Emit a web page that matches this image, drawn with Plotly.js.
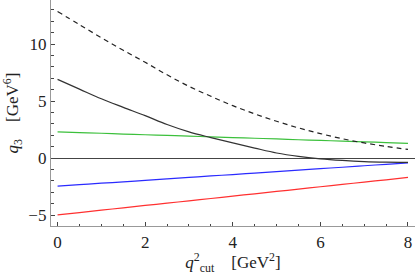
<!DOCTYPE html>
<html><head><meta charset="utf-8">
<script src="https://cdn.plot.ly/plotly-3.0.1.min.js"></script>
<style>body{margin:0;padding:0;background:#fff}#c{width:415px;height:275px}</style>
</head><body><div id="c"></div>
<script>
const qcut = [0,0.5,1,1.5,2,2.5,3,3.5,4,4.5,5,5.5,6,6.5,7,7.5,8];
const dashedVals = [12.85,11.7,10.55,9.45,8.4,7.3,6.29,5.42,4.6,3.88,3.23,2.65,2.15,1.7,1.33,1.03,0.76];
const blackVals = [6.9,6.05,5.2,4.45,3.72,2.95,2.3,1.8,1.33,0.88,0.45,0.15,-0.06,-0.2,-0.3,-0.35,-0.37];
const greenVals = [2.3,2.24,2.18,2.11,2.05,1.99,1.93,1.86,1.8,1.74,1.68,1.61,1.55,1.49,1.43,1.36,1.3];
const blueVals = [-2.46,-2.33,-2.2,-2.08,-1.95,-1.82,-1.69,-1.56,-1.44,-1.31,-1.18,-1.05,-0.92,-0.8,-0.67,-0.54,-0.41];
const redVals = [-4.97,-4.77,-4.56,-4.36,-4.15,-3.95,-3.74,-3.54,-3.33,-3.13,-2.92,-2.72,-2.51,-2.31,-2.1,-1.9,-1.69];

const xTicks = [0,2,4,6,8];
const yTicks = [-5,0,5,10];

const mk = (y, color, dash) => ({x: qcut, y: y, mode: 'lines', type: 'scatter',
  line: {color: color, width: 1.2, dash: dash || 'solid', shape: 'spline'}, hoverinfo: 'skip'});

const data = [
  mk(redVals, '#ff3030'),
  mk(blueVals, '#2b2bff'),
  mk(greenVals, '#3cc03c'),
  mk(blackVals, '#333333'),
  mk(dashedVals, '#222222', '5px,4px')
];

const fam = 'Liberation Serif';
const font = {family: fam, size: 17, color: '#222'};
const layout = {
  width: 415, height: 275,
  margin: {l: 51, r: 0, t: 0, b: 49},
  paper_bgcolor: '#fff', plot_bgcolor: '#fff',
  showlegend: false,
  font: font,
  xaxis: {
    range: [-0.15, 8.16], tickvals: xTicks, ticktext: xTicks.map(String),
    ticks: 'inside', ticklen: 4, tickwidth: 1, tickcolor: '#444',
    minor: {dtick: 0.5, tick0: 0, ticks: 'inside', ticklen: 2.5, tickcolor: '#444', showgrid: false},
    showline: true, linecolor: '#999', linewidth: 1.2, mirror: false,
    showgrid: false, zeroline: false,
    tickfont: font,
    title: {text: '<i>q</i><sup>2</sup><sub>cut</sub>    [GeV<sup>2</sup>]', font: {family: fam, size: 17, color: '#222'}, standoff: 8}
  },
  yaxis: {
    range: [-5.95, 13.86], tickvals: yTicks, ticktext: ['\u22125','0','5','10'],
    ticks: 'inside', ticklen: 4, tickwidth: 1, tickcolor: '#444',
    minor: {dtick: 1, tick0: 0, ticks: 'inside', ticklen: 2.5, tickcolor: '#444', showgrid: false},
    showline: true, linecolor: '#999', linewidth: 1.2, mirror: false,
    showgrid: false, zeroline: true, zerolinecolor: '#444', zerolinewidth: 1,
    tickfont: font,
    title: {text: '<i>q</i><sub>3</sub>    [GeV<sup>6</sup>]', font: {family: fam, size: 17, color: '#222'}, standoff: 8}
  }
};
Plotly.newPlot('c', data, layout, {staticPlot: true, displayModeBar: false});
</script></body></html>
